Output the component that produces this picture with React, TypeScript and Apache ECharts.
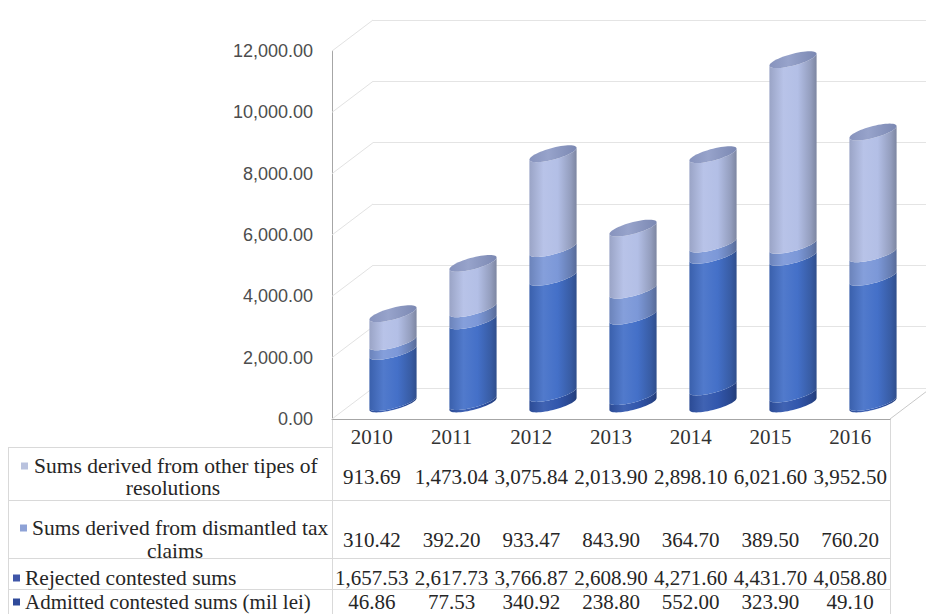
import React, { useEffect, useRef } from "react";
import * as echarts from "echarts";

// ---- data ----
const years = ["2010", "2011", "2012", "2013", "2014", "2015", "2016"];
const admitted = [46.86, 77.53, 340.92, 238.8, 552.0, 323.9, 49.1];
const rejected = [1657.53, 2617.73, 3766.87, 2608.9, 4271.6, 4431.7, 4058.8];
const dismantled = [310.42, 392.2, 933.47, 843.9, 364.7, 389.5, 760.2];
const other = [913.69, 1473.04, 3075.84, 2013.9, 2898.1, 6021.6, 3952.5];
const yTicks = [0, 2000, 4000, 6000, 8000, 10000, 12000];
// table rows, top to bottom
const rowLabelLines = [
  ["Sums derived from other tipes of", "resolutions"],
  ["Sums derived from dismantled tax", "claims"],
  ["Rejected contested sums"],
  ["Admitted contested sums (mil lei)"],
];
const rowValues = [other, dismantled, rejected, admitted];
// colours: bottom -> top segment
const segColors = ["#3257ad", "#4470c8", "#7c98d8", "#b3bfe6"];
const rowMarkerColors = ["#b9c2de", "#8ea2d6", "#3f56a8", "#2f4a9a"];

const fmt = (v: number) =>
  v.toLocaleString("en-US", { minimumFractionDigits: 2, maximumFractionDigits: 2 });

function mix(hex: string, t: number) {
  const n = parseInt(hex.slice(1), 16);
  const r = (n >> 16) & 255, g = (n >> 8) & 255, b = n & 255;
  const f = (c: number) => (t >= 0 ? Math.round(c + (255 - c) * t) : Math.round(c * (1 + t)));
  return `rgb(${f(r)},${f(g)},${f(b)})`;
}
function sideGradient(hex: string) {
  return new echarts.graphic.LinearGradient(0, 0, 1, 0, [
    { offset: 0, color: mix(hex, -0.14) },
    { offset: 0.3, color: mix(hex, 0.07) },
    { offset: 0.6, color: hex },
    { offset: 0.88, color: mix(hex, -0.18) },
    { offset: 1, color: mix(hex, -0.3) },
  ]);
}

const DEPTH_X = 41;
const DEPTH_Y = 31;

export default function App() {
  const ref = useRef<HTMLDivElement>(null);
  useEffect(() => {
    if (!ref.current) return;
    const chart = echarts.init(ref.current, undefined, { renderer: "svg" });

    const serifFont = "'Liberation Serif', 'Times New Roman', serif";
    const tableTextColor = "#262626";

    const rowOffsets = [47.5, 110.5, 148.5, 172];
    const rowAxes = rowValues.map((vals, r) => ({
      type: "category",
      gridIndex: 0,
      position: "bottom",
      offset: rowOffsets[r],
      data: vals.map(fmt),
      axisLine: { show: false },
      axisTick: { show: false },
      splitLine: { show: false },
      axisLabel: {
        interval: 0,
        margin: 0,
        fontFamily: serifFont,
        fontSize: 21,
        color: tableTextColor,
      },
    }));

    const renderCylinder = (params: any, api: any) => {
      const idx = api.value(0);
      const vals = [api.value(1), api.value(2), api.value(3), api.value(4)];
      const band = api.size([1, 0])[0];
      const w = band * 0.59;
      const cx = api.coord([idx, 0])[0];
      const rx = w / 2, ry = 6, k = 0.25;
      const N = 28;
      const children: any[] = [];
      let cum = 0;
      let topY = 0;
      for (let s = 0; s < 4; s++) {
        const y0 = api.coord([idx, cum])[1];
        cum += vals[s];
        const y1 = api.coord([idx, cum])[1];
        topY = y1;
        const pts: number[][] = [];
        for (let i = 0; i <= N; i++) {
          const t = Math.PI - (Math.PI * i) / N;
          const x = cx + rx * Math.cos(t);
          pts.push([x, y0 + ry * Math.sin(t) - k * (x - cx)]);
        }
        for (let i = 0; i <= N; i++) {
          const t = (Math.PI * i) / N;
          const x = cx + rx * Math.cos(t);
          pts.push([x, y1 + ry * Math.sin(t) - k * (x - cx)]);
        }
        children.push({
          type: "polygon",
          shape: { points: pts },
          style: { fill: sideGradient(segColors[s]) },
        });
      }
      const cap: number[][] = [];
      for (let i = 0; i < 2 * N; i++) {
        const t = (Math.PI * 2 * i) / (2 * N);
        const x = cx + rx * Math.cos(t);
        cap.push([x, topY + ry * Math.sin(t) - k * (x - cx)]);
      }
      children.push({
        type: "polygon",
        shape: { points: cap },
        style: {
          fill: new echarts.graphic.LinearGradient(0, 0, 1, 0, [
            { offset: 0, color: "#8793bd" },
            { offset: 0.4, color: "#97a3cb" },
            { offset: 1, color: "#7b88b2" },
          ]),
        },
      });
      return { type: "group", children };
    };

    const renderWall = (params: any, api: any) => {
      const cs = params.coordSys;
      const v = api.value(1);
      const y = api.coord([0, v])[1];
      const lineStyle = { stroke: "#e2e2e2", lineWidth: 1 };
      const children: any[] = [
        {
          type: "line",
          shape: { x1: cs.x, y1: y, x2: cs.x + DEPTH_X, y2: y - DEPTH_Y },
          style: lineStyle,
        },
      ];
      if (v === 0) {
        children.push({
          type: "line",
          shape: { x1: cs.x + cs.width, y1: y, x2: cs.x + cs.width + DEPTH_X, y2: y - DEPTH_Y },
          style: { stroke: "#c8c8c8", lineWidth: 1 },
        });
      }
      return { type: "group", children };
    };

    // table graphic
    const lineColor = "#d9d9d9";
    const graphics: any[] = [];
    const hline = (x1: number, x2: number, y: number) =>
      graphics.push({ type: "line", shape: { x1, y1: y + 0.5, x2, y2: y + 0.5 }, style: { stroke: lineColor, lineWidth: 1 }, silent: true });
    const vline = (x: number, y1: number, y2: number) =>
      graphics.push({ type: "line", shape: { x1: x + 0.5, y1, x2: x + 0.5, y2 }, style: { stroke: lineColor, lineWidth: 1 }, silent: true });
    hline(8, 332, 447);
    hline(8, 890, 500);
    hline(8, 890, 558);
    hline(8, 890, 589);
    vline(8, 447, 614);
    vline(332, 419, 614);
    vline(890, 419, 614);

    const rowLayout = [
      { marker: [21, 466], lines: [{ x: 34, y: 466, align: "left" }, { x: 173, y: 488, align: "center" }] },
      { marker: [20, 528], lines: [{ x: 32, y: 528, align: "left" }, { x: 175, y: 551, align: "center" }] },
      { marker: [13, 578], lines: [{ x: 25, y: 578, align: "left" }] },
      { marker: [13, 602], lines: [{ x: 25, y: 601.5, align: "left" }] },
    ];
    rowLabelLines.forEach((lines, r) => {
      const lay = rowLayout[r];
      graphics.push({
        type: "rect",
        shape: { x: lay.marker[0], y: lay.marker[1] - 3.5, width: 7, height: 7 },
        style: { fill: rowMarkerColors[r] },
        silent: true,
      });
      lines.forEach((txt, li) => {
        const p = lay.lines[li];
        graphics.push({
          type: "text",
          x: p.x,
          y: p.y,
          style: {
            text: txt,
            font: `${r === 3 ? 21 : 21.5}px ${serifFont}`,
            fill: tableTextColor,
            align: p.align,
            verticalAlign: "middle",
          },
          silent: true,
        });
      });
    });

    chart.setOption({
      animation: false,
      backgroundColor: "#ffffff",
      grid: [
        { left: 332, top: 51, width: 558, height: 368 },
        { left: 373, top: 20, width: 553, height: 368 },
        { left: 353, top: 34, width: 560, height: 370 },
      ],
      xAxis: [
        {
          type: "category",
          gridIndex: 0,
          data: years,
          axisLine: { show: true, lineStyle: { color: "#a6a6a6", width: 1 } },
          axisTick: { show: false },
          splitLine: { show: false },
          axisLabel: {
            interval: 0,
            margin: 7.5,
            fontFamily: serifFont,
            fontSize: 21,
            color: "#333333",
          },
        },
        ...rowAxes,
        { type: "category", gridIndex: 1, data: years, show: false },
        { type: "category", gridIndex: 2, data: years, show: false },
      ],
      yAxis: [
        {
          type: "value",
          gridIndex: 0,
          min: 0,
          max: 12000,
          interval: 2000,
          axisLine: { show: true, lineStyle: { color: "#a6a6a6", width: 1 } },
          axisTick: { show: false },
          splitLine: { show: false },
          axisLabel: {
            margin: 19,
            formatter: (v: number) => fmt(v),
            fontFamily: "'Liberation Sans', Arial, sans-serif",
            fontSize: 18,
            color: "#4d4d4d",
          },
        },
        {
          type: "value",
          gridIndex: 1,
          min: 0,
          max: 12000,
          interval: 2000,
          axisLine: { show: false },
          axisTick: { show: false },
          axisLabel: { show: false },
          splitLine: { show: true, lineStyle: { color: "#e4e4e4", width: 1 } },
        },
        {
          type: "value",
          gridIndex: 2,
          min: 0,
          max: 12000,
          interval: 2000,
          show: false,
          splitLine: { show: false },
        },
      ],
      series: [
        {
          type: "custom",
          name: "wall",
          xAxisIndex: 0,
          yAxisIndex: 0,
          renderItem: renderWall,
          data: yTicks.map((v) => [0, v]),
          encode: { x: 0, y: 1 },
          silent: true,
          clip: false,
          z: 1,
        },
        {
          type: "custom",
          name: "totals",
          xAxisIndex: 6,
          yAxisIndex: 2,
          renderItem: renderCylinder,
          data: years.map((_, i) => [i, admitted[i], rejected[i], dismantled[i], other[i]]),
          encode: { x: 0, y: [1, 2, 3, 4] },
          clip: false,
          z: 3,
        },
      ],
      graphic: graphics,
    });
    return () => chart.dispose();
  }, []);
  return (
    <div
      ref={ref}
      style={{ position: "absolute", left: 0, top: 0, width: 926, height: 614, background: "#fff" }}
    />
  );
}
